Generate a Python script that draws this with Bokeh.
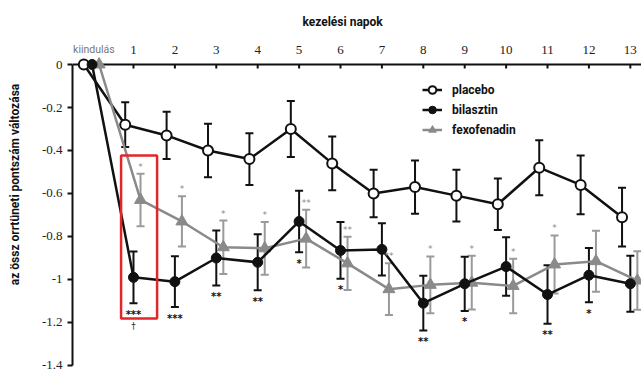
from bokeh.plotting import figure
from bokeh.models import (ColumnDataSource, Whisker, TeeHead, Range1d, FixedTicker,
                          Legend, LegendItem, BoxAnnotation, Span)
from bokeh.core.properties import value
from bokeh.embed import file_html
from bokeh.resources import INLINE

# ---------------- data ----------------
days = list(range(14))
x_tick_labels = ["kiindulás", "1", "2", "3", "4", "5", "6", "7", "8", "9", "10", "11", "12", "13"]
x_title = "kezelési napok"
y_title = "az össz orrtüneti pontszám változása"
y_ticks = [0, -0.2, -0.4, -0.6, -0.8, -1, -1.2, -1.4]
y_tick_labels = ["0", "-0.2", "-0.4", "-0.6", "-0.8", "-1", "-1.2", "-1.4"]

placebo = [0, -0.28, -0.33, -0.40, -0.44, -0.30, -0.46, -0.60, -0.57, -0.61, -0.65, -0.48, -0.56, -0.71]
placebo_err = [0, 0.104, 0.11, 0.125, 0.12, 0.13, 0.125, 0.11, 0.124, 0.12, 0.12, 0.128, 0.137, 0.137]

bilastine = [0, -0.99, -1.01, -0.90, -0.92, -0.73, -0.865, -0.86, -1.11, -1.02, -0.94, -1.07, -0.98, -1.02]
bilastine_err = [0, 0.12, 0.118, 0.128, 0.13, 0.143, 0.132, 0.122, 0.127, 0.126, 0.136, 0.136, 0.126, 0.13]

fexo = [0, -0.63, -0.73, -0.85, -0.855, -0.81, -0.925, -1.045, -1.025, -1.015, -1.03, -0.93, -0.915, -1.005]
fexo_err = [0, 0.122, 0.117, 0.124, 0.123, 0.134, 0.124, 0.12, 0.132, 0.125, 0.127, 0.135, 0.142, 0.136]

bilastine_sig = ["", "***", "***", "**", "**", "*", "*", "", "**", "*", "", "**", "*", ""]
fexo_sig = ["", "*", "*", "*", "*", "**", "**", "**", "*", "*", "*", "*", "", ""]
dagger_day = 1

series_names = ["placebo", "bilasztin", "fexofenadin"]

# ---------------- styling ----------------
BLACK = "#111111"
GREY = "#8a8a8a"
GREY_BAR = "#9a9a9a"
SANS = "Roboto"
SERIF = "Liberation Serif"
offsets = {"placebo": -0.2, "bilasztin": 0.0, "fexofenadin": 0.17}
TICK_LEN = 0.019


def make_sources(vals, errs, off):
    xs = [d + off for d in days]
    main = ColumnDataSource(dict(x=xs, y=vals))
    eb = ColumnDataSource(dict(
        x=xs[1:],
        upper=[v + e for v, e in zip(vals[1:], errs[1:])],
        lower=[v - e for v, e in zip(vals[1:], errs[1:])],
    ))
    return main, eb


p = figure(width=641, height=372,
           x_range=Range1d(-0.473, 13.27), y_range=Range1d(-1.414, 0.2977),
           x_axis_location=None, output_backend="svg", toolbar_location=None,
           min_border_left=72, min_border_top=0, min_border_right=0, min_border_bottom=4)
p.grid.visible = False
p.outline_line_color = None
p.background_fill_color = "white"

# y axis
ya = p.yaxis[0]
ya.ticker = FixedTicker(ticks=y_ticks)
ya.major_label_overrides = {t: l for t, l in zip(y_ticks, y_tick_labels)}
ya.bounds = (-1.4, 0)
ya.major_tick_out = 5
ya.major_tick_in = 0
ya.minor_tick_line_color = None
ya.axis_line_width = 2
ya.axis_line_color = BLACK
ya.major_tick_line_width = 2
ya.major_tick_line_color = BLACK
ya.major_label_standoff = 5
ya.major_label_text_font = SERIF
ya.major_label_text_font_size = "13px"
ya.major_label_text_color = "#222222"
ya.axis_label = y_title
ya.axis_label_text_font = SANS
ya.axis_label_text_font_style = "bold"
ya.axis_label_text_font_size = "12px"
ya.axis_label_text_color = "#111111"
ya.axis_label_standoff = 17

# top day axis at y = 0
p.add_layout(Span(location=0, dimension="width", line_color=BLACK, line_width=2,
                  level="underlay"))
tick_src = ColumnDataSource(dict(x=days, y0=[0] * len(days), y1=[-TICK_LEN] * len(days)))
p.segment(x0="x", y0="y0", x1="x", y1="y1", source=tick_src, line_color=BLACK, line_width=2)
num_src = ColumnDataSource(dict(x=days[1:], y=[0] * (len(days) - 1), t=x_tick_labels[1:]))
p.text("x", "y", text="t", source=num_src, text_font=value(SERIF), text_font_size="13px",
       text_color="#222222", text_align="center", text_baseline="middle", y_offset=-15)
base_src = ColumnDataSource(dict(x=[days[0]], y=[0], t=[x_tick_labels[0]]))
p.text("x", "y", text="t", source=base_src, text_font=value(SANS), text_font_size="10.5px",
       text_color="#777777", text_align="left", text_baseline="middle",
       x_offset=-19, y_offset=-15)
title_src = ColumnDataSource(dict(x=[(days[0] + days[-1]) / 2 - 0.45], y=[0], t=[x_title]))
p.text("x", "y", text="t", source=title_src, text_font=value(SANS), text_font_size="12px",
       text_font_style="bold", text_color="#111111", text_align="center",
       text_baseline="middle", y_offset=-43)

# series
pl_src, pl_eb = make_sources(placebo, placebo_err, offsets["placebo"])
bi_src, bi_eb = make_sources(bilastine, bilastine_err, offsets["bilasztin"])
fx_src, fx_eb = make_sources(fexo, fexo_err, offsets["fexofenadin"])


def add_whisker(src, color):
    w = Whisker(source=src, base="x", upper="upper", lower="lower", dimension="height",
                line_color=color, line_width=2, level="underlay",
                upper_head=TeeHead(size=8, line_color=color, line_width=2),
                lower_head=TeeHead(size=8, line_color=color, line_width=2))
    p.add_layout(w)


add_whisker(pl_eb, BLACK)
add_whisker(fx_eb, GREY_BAR)
add_whisker(bi_eb, BLACK)

pl_line = p.line("x", "y", source=pl_src, line_color=BLACK, line_width=2.5)
pl_pts = p.scatter("x", "y", source=pl_src, marker="circle", size=10,
                   fill_color="white", line_color=BLACK, line_width=2)
fx_line = p.line("x", "y", source=fx_src, line_color=GREY, line_width=2.5)
fx_pts = p.scatter("x", "y", source=fx_src, marker="triangle", size=12,
                   fill_color=GREY, line_color=GREY, line_width=1)
bi_line = p.line("x", "y", source=bi_src, line_color=BLACK, line_width=2.5)
bi_pts = p.scatter("x", "y", source=bi_src, marker="circle", size=10,
                   fill_color=BLACK, line_color=BLACK, line_width=1)

# significance marks
bi_sig_src = ColumnDataSource(dict(
    x=[d + offsets["bilasztin"] for d, s in zip(days, bilastine_sig) if s],
    y=[v - e for v, e, s in zip(bilastine, bilastine_err, bilastine_sig) if s],
    t=[s for s in bilastine_sig if s]))
p.text("x", "y", text="t", source=bi_sig_src, text_font=value("DejaVu Sans"),
       text_font_size="10px", text_font_style="bold", text_color=BLACK,
       text_align="center", text_baseline="middle", y_offset=11)

fx_sig_src = ColumnDataSource(dict(
    x=[d + offsets["fexofenadin"] for d, s in zip(days, fexo_sig) if s],
    y=[v + e for v, e, s in zip(fexo, fexo_err, fexo_sig) if s],
    t=[s for s in fexo_sig if s]))
p.text("x", "y", text="t", source=fx_sig_src, text_font=value("DejaVu Sans"),
       text_font_size="9px", text_color=GREY,
       text_align="center", text_baseline="middle", y_offset=-7)

dag_src = ColumnDataSource(dict(
    x=[dagger_day + offsets["bilasztin"]],
    y=[bilastine[dagger_day] - bilastine_err[dagger_day]],
    t=["†"]))
p.text("x", "y", text="t", source=dag_src, text_font=value("DejaVu Sans"),
       text_font_size="9px", text_color="#333333",
       text_align="center", text_baseline="middle", y_offset=23)

# red highlight box around day 1
p.add_layout(BoxAnnotation(left=dagger_day - 0.3, right=dagger_day + 0.57,
                           top=fexo[1] + fexo_err[1] + 0.085,
                           bottom=bilastine[1] - bilastine_err[1] - 0.072,
                           fill_alpha=0, fill_color=None, line_alpha=1,
                           line_color="#e3262b", line_width=2.5))

legend = Legend(items=[
    LegendItem(label=series_names[0], renderers=[pl_line, pl_pts]),
    LegendItem(label=series_names[1], renderers=[bi_line, bi_pts]),
    LegendItem(label=series_names[2], renderers=[fx_line, fx_pts]),
], location=(350, 229), border_line_color=None, background_fill_alpha=0,
    padding=0, margin=0, spacing=1, glyph_width=20, glyph_height=19,
    label_height=19, label_standoff=10, label_text_font=SANS,
    label_text_font_style="bold", label_text_font_size="12px", label_text_color="#111111")
p.add_layout(legend)

open("out.html", "w").write(file_html(p, INLINE))
